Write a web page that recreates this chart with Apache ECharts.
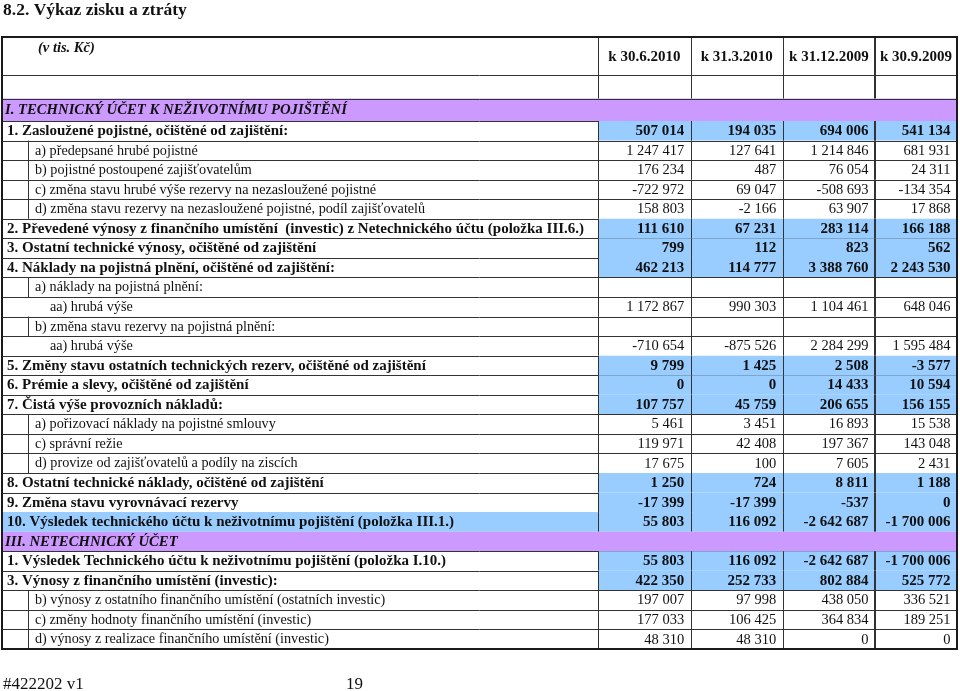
<!DOCTYPE html>
<html>
<head>
<meta charset="utf-8">
<script src="https://cdn.jsdelivr.net/npm/echarts@6/dist/echarts.min.js"></script>
<style>
    html, body { margin: 0; background: #fff; }
    #chart { width: 960px; height: 691px; }
</style>
</head>
<body>
<div id="chart"></div>
<script>
const columns = ['k 30.6.2010', 'k 31.3.2010', 'k 31.12.2009', 'k 30.9.2009'];

const rowLabels = [
    '1. Zasloužené pojistné, očištěné od zajištění:',
    'a) předepsané hrubé pojistné',
    'b) pojistné postoupené zajišťovatelům',
    'c) změna stavu hrubé výše rezervy na nezasloužené pojistné',
    'd) změna stavu rezervy na nezasloužené pojistné, podíl zajišťovatelů',
    '2. Převedené výnosy z finančního umístění  (investic) z Netechnického účtu (položka III.6.)',
    '3. Ostatní technické výnosy, očištěné od zajištění',
    '4. Náklady na pojistná plnění, očištěné od zajištění:',
    'a) náklady na pojistná plnění:',
    'aa) hrubá výše',
    'b) změna stavu rezervy na pojistná plnění:',
    'aa) hrubá výše',
    '5. Změny stavu ostatních technických rezerv, očištěné od zajištění',
    '6. Prémie a slevy, očištěné od zajištění',
    '7. Čistá výše provozních nákladů:',
    'a) pořizovací náklady na pojistné smlouvy',
    'c) správní režie',
    'd) provize od zajišťovatelů a podíly na ziscích',
    '8. Ostatní technické náklady, očištěné od zajištění',
    '9. Změna stavu vyrovnávací rezervy',
    '10. Výsledek technického účtu k neživotnímu pojištění (položka III.1.)',
    'III. NETECHNICKÝ ÚČET',
    '1. Výsledek Technického účtu k neživotnímu pojištění (položka I.10.)',
    '3. Výnosy z finančního umístění (investic):',
    'b) výnosy z ostatního finančního umístění (ostatních investic)',
    'c) změny hodnoty finančního umístění (investic)',
    'd) výnosy z realizace finančního umístění (investic)'
];

// main = bold row with blue values, sub = indented, subsub = deeper indent,
// total = whole row blue, section = purple heading
const rowTypes = [
    'main', 'sub', 'sub', 'sub', 'sub', 'main', 'main', 'main', 'sub', 'subsub',
    'sub', 'subsub', 'main', 'main', 'main', 'sub', 'sub', 'sub', 'main', 'main',
    'total', 'section', 'main', 'main', 'sub', 'sub', 'sub'
];

const valJun2010 = [507014, 1247417, 176234, -722972, 158803, 111610, 799, 462213, null, 1172867,
    null, -710654, 9799, 0, 107757, 5461, 119971, 17675, 1250, -17399,
    55803, null, 55803, 422350, 197007, 177033, 48310];
const valMar2010 = [194035, 127641, 487, 69047, -2166, 67231, 112, 114777, null, 990303,
    null, -875526, 1425, 0, 45759, 3451, 42408, 100, 724, -17399,
    116092, null, 116092, 252733, 97998, 106425, 48310];
const valDec2009 = [694006, 1214846, 76054, -508693, 63907, 283114, 823, 3388760, null, 1104461,
    null, 2284299, 2508, 14433, 206655, 16893, 197367, 7605, 8811, -537,
    -2642687, null, -2642687, 802884, 438050, 364834, 0];
const valSep2009 = [541134, 681931, 24311, -134354, 17868, 166188, 562, 2243530, null, 648046,
    null, 1595484, -3577, 10594, 156155, 15538, 143048, 2431, 1188, 0,
    -1700006, null, -1700006, 525772, 336521, 189251, 0];

const valueColumns = [valJun2010, valMar2010, valDec2009, valSep2009];

// layout
const FONT = '"Liberation Serif", "Times New Roman", serif';
const BLUE = '#99ccff';
const PURPLE = '#cc99ff';
const LINE = '#333';
const TABLE_L = 2, TABLE_R = 957;
const COL_EDGES = [598, 690.7, 782.7, 875, 957];
const TABLE_TOP = 37, HEAD1_B = 75, HEAD2_B = 98.5, BODY_TOP = 121, BODY_BOTTOM = 649;

function fmt(n) {
    if (n === null || n === undefined) return '';
    const s = String(Math.abs(n)).replace(/\B(?=(\d{3})+(?!\d))/g, ' ');
    return (n < 0 ? '-' : '') + s;
}

function hline(x1, x2, y, w) {
    const o = (w || 1) % 2 ? 0.5 : 0;
    return { type: 'line', shape: { x1: x1, y1: Math.round(y) + o, x2: x2, y2: Math.round(y) + o },
        style: { stroke: LINE, lineWidth: w || 1 } };
}
function vline(x, y1, y2, w) {
    const o = (w || 1) % 2 ? 0.5 : 0;
    return { type: 'line', shape: { x1: Math.round(x) + o, y1: y1, x2: Math.round(x) + o, y2: y2 },
        style: { stroke: LINE, lineWidth: w || 1 } };
}

function renderItem(params, api) {
    const i = api.value(1);
    const type = rowTypes[i];
    const c = api.coord([0, i]);
    const h = api.size([0, 1])[1];
    const top = c[1] - h / 2, bottom = c[1] + h / 2, mid = c[1] + 0.5;
    const xl = api.coord([TABLE_L, i])[0];
    const xr = api.coord([TABLE_R, i])[0];
    const edges = COL_EDGES.map(e => api.coord([e, i])[0]);
    const children = [];

    if (type === 'section') {
        children.push({ type: 'rect', shape: { x: xl, y: top, width: xr - xl, height: h }, style: { fill: PURPLE } });
    } else if (type === 'total') {
        children.push({ type: 'rect', shape: { x: xl, y: top, width: xr - xl, height: h }, style: { fill: BLUE } });
    } else if (type === 'main') {
        children.push({ type: 'rect', shape: { x: edges[0], y: top, width: xr - edges[0], height: h }, style: { fill: BLUE } });
    }

    children.push(hline(xl, xr, bottom));
    if (type !== 'section') {
        edges.slice(0, 4).forEach((e, k) => children.push(vline(e, top, bottom, k === 3 ? 2 : 1)));
    }
    if (type === 'sub') children.push(vline(28, top, bottom));

    const bold = type === 'main' || type === 'total';
    let labelX = 7, labelFont = 'bold 15px ' + FONT;
    if (type === 'sub') { labelX = 35; labelFont = '14.2px ' + FONT; }
    if (type === 'subsub') { labelX = 50; labelFont = '14.2px ' + FONT; }
    if (type === 'section') { labelX = 5; labelFont = 'italic bold 14.7px ' + FONT; }
    children.push({
        type: 'text',
        style: { text: rowLabels[i], x: labelX, y: mid, font: labelFont, fill: '#111',
            textAlign: 'left', textVerticalAlign: 'middle' }
    });

    valueColumns.forEach((vals, k) => {
        children.push({
            type: 'text',
            style: { text: fmt(vals[i]), x: edges[k + 1] - 6.5, y: mid,
                font: (bold ? 'bold 15px ' : '14.5px ') + FONT, fill: '#111',
                textAlign: 'right', textVerticalAlign: 'middle' }
        });
    });

    return { type: 'group', children: children };
}

// header and frame
const graphics = [
    { type: 'text', left: 3, top: 1, style: { text: '8.2. Výkaz zisku a ztráty', font: 'bold 17.5px ' + FONT, fill: '#111' } },
    { type: 'rect', shape: { x: TABLE_L, y: HEAD2_B, width: TABLE_R - TABLE_L, height: BODY_TOP - HEAD2_B }, style: { fill: PURPLE } },
    { type: 'text', style: { text: '(v tis. Kč)', x: 38, y: 48, font: 'italic bold 14.5px ' + FONT, fill: '#111', textVerticalAlign: 'middle' } },
    { type: 'text', style: { text: 'I. TECHNICKÝ ÚČET K NEŽIVOTNÍMU POJIŠTĚNÍ', x: 5, y: 110, font: 'italic bold 14.7px ' + FONT, fill: '#111', textVerticalAlign: 'middle' } },
    hline(TABLE_L, TABLE_R, HEAD1_B),
    hline(TABLE_L, TABLE_R, HEAD2_B),
    hline(TABLE_L, TABLE_R, BODY_TOP),
    { type: 'text', style: { text: '#422202 v1', x: 3, y: 685, font: '17px ' + FONT, fill: '#111', textVerticalAlign: 'middle' } },
    { type: 'text', style: { text: '19', x: 346, y: 685, font: '17px ' + FONT, fill: '#111', textVerticalAlign: 'middle' } }
];
COL_EDGES.slice(0, 4).forEach((e, k) => {
    graphics.push(vline(e, TABLE_TOP, HEAD2_B, k === 3 ? 2 : 1));
    graphics.push({ type: 'text', style: { text: columns[k], x: (e + COL_EDGES[k + 1]) / 2, y: 57,
        font: 'bold 15px ' + FONT, fill: '#111', textAlign: 'center', textVerticalAlign: 'middle' } });
});
graphics.push({ type: 'rect', z: 100, shape: { x: TABLE_L, y: TABLE_TOP, width: TABLE_R - TABLE_L, height: BODY_BOTTOM - TABLE_TOP },
    style: { fill: null, stroke: '#1a1a1a', lineWidth: 2 } });

const chart = echarts.init(document.getElementById('chart'));
chart.setOption({
    animation: false,
    grid: { left: 0, right: 0, top: BODY_TOP, bottom: 691 - BODY_BOTTOM },
    xAxis: { type: 'value', min: 0, max: 960, show: false },
    yAxis: { type: 'category', data: rowLabels, inverse: true, show: false },
    graphic: graphics,
    series: [{
        type: 'custom',
        renderItem: renderItem,
        data: rowLabels.map((l, i) => [0, i]),
        encode: { x: 0, y: 1 },
        silent: true
    }]
});
</script>
</body>
</html>
